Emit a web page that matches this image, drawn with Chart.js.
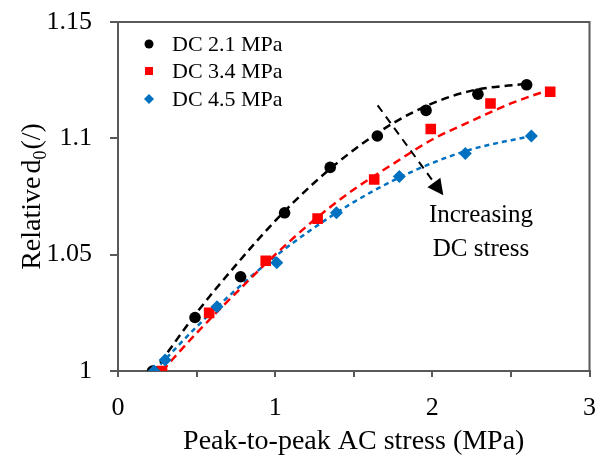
<!DOCTYPE html>
<html>
<head>
<meta charset="utf-8">
<script src="https://cdn.jsdelivr.net/npm/chart.js@4/dist/chart.umd.min.js"></script>
<style>
  body { margin: 0; background: #fff; }
</style>
</head>
<body>
<canvas id="chart" width="597" height="459"></canvas>
<script>
// measured points (x = peak-to-peak AC stress, y = relative d0)
const acBlack = [0.22, 0.49, 0.78, 1.06, 1.35, 1.65, 1.96, 2.29, 2.60];
const dBlack  = [1.000, 1.023, 1.0405, 1.068, 1.0875, 1.101, 1.112, 1.119, 1.123];
const acRed   = [0.28, 0.58, 0.94, 1.27, 1.63, 1.99, 2.37, 2.75];
const dRed    = [1.000, 1.025, 1.0474, 1.0655, 1.0823, 1.104, 1.115, 1.120];
const acBlue  = [0.23, 0.30, 0.63, 1.01, 1.39, 1.79, 2.21, 2.63];
const dBlue   = [1.000, 1.0047, 1.0276, 1.0465, 1.068, 1.0836, 1.0935, 1.101];

// dashed trend lines
const trendXBlack = [0.22, 0.5, 0.75, 1.0, 1.25, 1.5, 1.75, 2.0, 2.25, 2.6];
const trendYBlack = [0.999, 1.025, 1.0455, 1.0645, 1.081, 1.095, 1.1065, 1.115, 1.1205, 1.1235];
const trendXRed   = [0.28, 0.5, 0.75, 1.0, 1.25, 1.5, 1.75, 2.0, 2.25, 2.5, 2.75];
const trendYRed   = [1.000, 1.0163, 1.0335, 1.050, 1.065, 1.078, 1.089, 1.0995, 1.1075, 1.115, 1.121];
const trendXBlue  = [0.23, 0.5, 0.75, 1.0, 1.25, 1.5, 1.75, 2.0, 2.25, 2.63];
const trendYBlue  = [1.000, 1.019, 1.0349, 1.0492, 1.0617, 1.0726, 1.0818, 1.0894, 1.0953, 1.101];

const seriesNames = ['DC 2.1 MPa', 'DC 3.4 MPa', 'DC 4.5 MPa'];
const seriesColors = ['#000000', '#ff0000', '#0070c0'];

const xTitle = 'Peak-to-peak AC stress (MPa)';
const noteLines = ['Increasing', 'DC stress'];
const arrowFrom = [1.652, 1.1142];
const arrowTo = [2.07, 1.0755];

const FONT = "'Liberation Serif', 'Times New Roman', serif";
const AXIS = '#595959';

function toPoints(xs, ys) {
    return xs.map((x, i) => ({ x: x, y: ys[i] }));
}

// top and right edges of the frame
const framePlugin = {
    id: 'frame',
    beforeDatasetsDraw(chart) {
        const a = chart.chartArea;
        const ctx = chart.ctx;
        ctx.save();
        ctx.strokeStyle = AXIS;
        ctx.lineWidth = 2;
        ctx.beginPath();
        ctx.moveTo(a.left, a.top);
        ctx.lineTo(a.right, a.top);
        ctx.lineTo(a.right, a.bottom);
        ctx.stroke();
        ctx.restore();
    }
};

// legend, arrow, note and y title
const extrasPlugin = {
    id: 'extras',
    afterDatasetsDraw(chart) {
        const ctx = chart.ctx;
        const xs = chart.scales.x, ys = chart.scales.y;
        ctx.save();

        // legend
        const shapes = ['circle', 'rect', 'diamond'];
        ctx.font = '22px ' + FONT;
        ctx.textBaseline = 'middle';
        ctx.textAlign = 'left';
        const rows = [44, 71, 99];
        seriesNames.forEach((name, i) => {
            const cx = 149, cy = rows[i];
            ctx.fillStyle = seriesColors[i];
            ctx.beginPath();
            if (shapes[i] === 'circle') {
                ctx.arc(cx, cy, 4.5, 0, Math.PI * 2);
            } else if (shapes[i] === 'rect') {
                ctx.rect(cx - 4, cy - 4, 8, 8);
            } else {
                ctx.moveTo(cx, cy - 5);
                ctx.lineTo(cx + 5, cy);
                ctx.lineTo(cx, cy + 5);
                ctx.lineTo(cx - 5, cy);
                ctx.closePath();
            }
            ctx.fill();
            ctx.fillStyle = '#000';
            ctx.fillText(name, 172, cy + 1);
        });

        // arrow
        const x1 = xs.getPixelForValue(arrowFrom[0]), y1 = ys.getPixelForValue(arrowFrom[1]);
        const x2 = xs.getPixelForValue(arrowTo[0]), y2 = ys.getPixelForValue(arrowTo[1]);
        const ang = Math.atan2(y2 - y1, x2 - x1);
        const headLen = 16, headW = 8;
        const bx = x2 - headLen * Math.cos(ang), by = y2 - headLen * Math.sin(ang);
        ctx.strokeStyle = '#000';
        ctx.lineWidth = 2;
        ctx.setLineDash([8, 6]);
        ctx.beginPath();
        ctx.moveTo(x1, y1);
        ctx.lineTo(bx, by);
        ctx.stroke();
        ctx.setLineDash([]);
        ctx.fillStyle = '#000';
        ctx.beginPath();
        ctx.moveTo(x2, y2);
        ctx.lineTo(bx + headW * Math.sin(ang), by - headW * Math.cos(ang));
        ctx.lineTo(bx - headW * Math.sin(ang), by + headW * Math.cos(ang));
        ctx.closePath();
        ctx.fill();

        // note
        ctx.font = '25px ' + FONT;
        ctx.textAlign = 'center';
        ctx.textBaseline = 'alphabetic';
        ctx.fillText(noteLines[0], 481, 222);
        ctx.fillText(noteLines[1], 481, 256);

        // y title with subscript
        const cyT = (chart.chartArea.top + chart.chartArea.bottom) / 2;
        ctx.translate(40, cyT);
        ctx.rotate(-Math.PI / 2);
        ctx.font = '28px ' + FONT;
        const w1 = ctx.measureText('Relative').width;
        const w1b = ctx.measureText('d').width;
        ctx.font = '18px ' + FONT;
        const w2 = ctx.measureText('0').width;
        ctx.font = '28px ' + FONT;
        const w3 = ctx.measureText('(/)').width;
        const gap = 3;
        let x0 = -(w1 + gap + w1b + w2 + w3 + 1) / 2;
        ctx.textAlign = 'left';
        ctx.fillText('Relative', x0, 0);
        ctx.fillText('d', x0 + w1 + gap, 0);
        ctx.font = '18px ' + FONT;
        ctx.fillText('0', x0 + w1 + gap + w1b, 6);
        ctx.font = '28px ' + FONT;
        ctx.fillText('(/)', x0 + w1 + gap + w1b + w2 + 1, 0);
        ctx.restore();
    }
};

const markerBase = { showLine: false, borderWidth: 0, order: 1 };
const trendBase = { showLine: true, pointRadius: 0, borderWidth: 2.5, fill: false, cubicInterpolationMode: 'monotone', order: 10 };

new Chart(document.getElementById('chart'), {
    type: 'scatter',
    data: {
        datasets: [
            { ...markerBase, label: seriesNames[2], data: toPoints(acBlue, dBlue), pointStyle: 'rectRot', pointRadius: 6.5, backgroundColor: seriesColors[2], order: 1 },
            { ...markerBase, label: seriesNames[1], data: toPoints(acRed, dRed), pointStyle: 'rect', pointRadius: 7.5, backgroundColor: seriesColors[1], order: 2 },
            { ...markerBase, label: seriesNames[0], data: toPoints(acBlack, dBlack), pointStyle: 'circle', pointRadius: 5.8, backgroundColor: seriesColors[0], order: 3 },
            { ...trendBase, label: 'trend0', data: toPoints(trendXBlack, trendYBlack), borderColor: seriesColors[0], borderDash: [8, 5] },
            { ...trendBase, label: 'trend1', data: toPoints(trendXRed, trendYRed), borderColor: seriesColors[1], borderDash: [8, 5] },
            { ...trendBase, label: 'trend2', data: toPoints(trendXBlue, trendYBlue), borderColor: seriesColors[2], borderDash: [5, 4] }
        ]
    },
    options: {
        responsive: false,
        animation: false,
        layout: { padding: { top: 22, right: 5, left: 0, bottom: 0 } },
        plugins: {
            legend: { display: false },
            tooltip: { enabled: false }
        },
        scales: {
            x: {
                type: 'linear',
                min: 0,
                max: 3,
                border: { color: AXIS, width: 2 },
                grid: { drawOnChartArea: false, drawTicks: true, tickLength: 6, color: AXIS, lineWidth: 2 },
                ticks: {
                    stepSize: 0.5,
                    autoSkip: false,
                    maxRotation: 0,
                    padding: 16,
                    color: '#000',
                    font: { family: FONT, size: 26 },
                    callback: v => (Math.abs(v - Math.round(v)) < 1e-9 ? String(Math.round(v)) : '')
                },
                title: {
                    display: true,
                    text: xTitle,
                    color: '#000',
                    font: { family: FONT, size: 28 },
                    padding: { top: 0, bottom: 1 }
                },
                afterFit(scale) { scale.height = 88; scale.paddingRight = 0; scale.paddingLeft = 0; }
            },
            y: {
                type: 'linear',
                min: 1,
                max: 1.15,
                border: { color: AXIS, width: 2 },
                grid: { drawOnChartArea: false, drawTicks: true, tickLength: 8, color: AXIS, lineWidth: 2 },
                ticks: {
                    stepSize: 0.05,
                    padding: 18,
                    color: '#000',
                    font: { family: FONT, size: 26 },
                    callback: v => String(Number(v.toFixed(2)))
                },
                afterFit(scale) { scale.width = 118; scale.paddingTop = 0; scale.paddingBottom = 0; }
            }
        }
    },
    plugins: [framePlugin, extrasPlugin]
});
</script>
</body>
</html>
